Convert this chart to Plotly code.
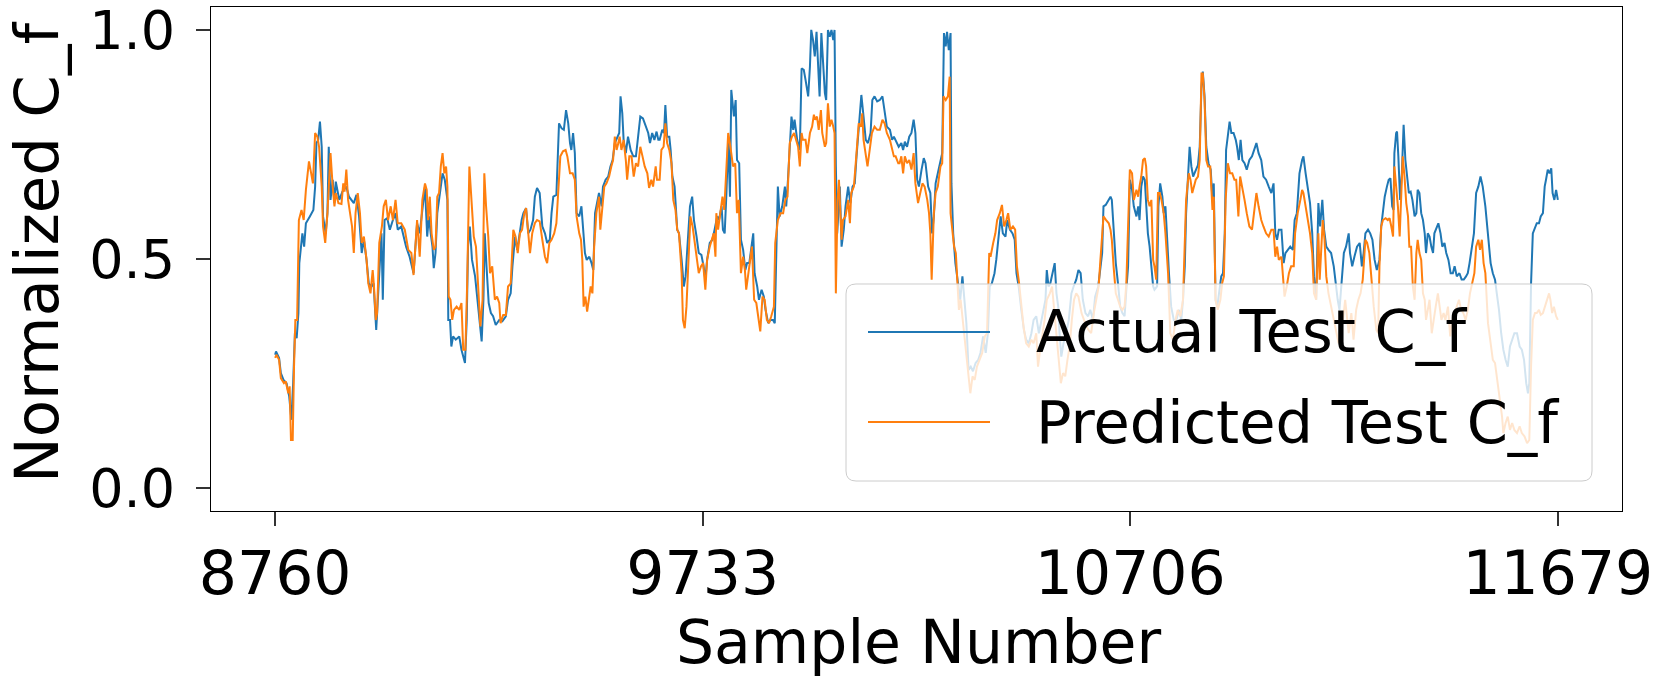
import plotly.graph_objects as go

# axis ticks
x_ticks = [8760, 9733, 10706, 11679]
x_tick_labels = ["8760", "9733", "10706", "11679"]
y_ticks = [0.0, 0.5, 1.0]
y_tick_labels = ["0.0", "0.5", "1.0"]

series_names = ["Actual Test C_f", "Predicted Test C_f"]
series_colours = ["#1f77b4", "#ff7f0e"]

# (sample number, normalized C_f)
actual_points = [
    (8760, 0.291), (8762, 0.298), (8769, 0.284), (8773, 0.251), (8779, 0.236), (8786, 0.229),
    (8792, 0.2), (8797, 0.149), (8801, 0.229), (8805, 0.338), (8809, 0.327), (8813, 0.382),
    (8815, 0.491), (8818, 0.527), (8822, 0.556), (8826, 0.527), (8830, 0.578), (8839, 0.593),
    (8847, 0.607), (8851, 0.658), (8854, 0.753), (8858, 0.76), (8862, 0.8), (8866, 0.745),
    (8869, 0.593), (8875, 0.556), (8879, 0.6), (8882, 0.745), (8886, 0.629), (8891, 0.673),
    (8895, 0.622), (8898, 0.669), (8906, 0.629), (8913, 0.647), (8922, 0.658), (8928, 0.636),
    (8934, 0.629), (8939, 0.622), (8945, 0.64), (8951, 0.593), (8957, 0.513), (8962, 0.542),
    (8968, 0.498), (8973, 0.447), (8979, 0.44), (8984, 0.447), (8990, 0.345), (8997, 0.484),
    (9002, 0.556), (9005, 0.411), (9009, 0.585), (9015, 0.589), (9021, 0.564), (9028, 0.585),
    (9034, 0.6), (9039, 0.564), (9047, 0.571), (9058, 0.527), (9066, 0.505), (9075, 0.469),
    (9083, 0.578), (9089, 0.556), (9097, 0.629), (9101, 0.658), (9106, 0.549), (9110, 0.593),
    (9114, 0.556), (9118, 0.527), (9121, 0.48), (9125, 0.513), (9129, 0.6), (9133, 0.629),
    (9137, 0.651), (9141, 0.687), (9146, 0.673), (9152, 0.629), (9154, 0.367), (9158, 0.367),
    (9161, 0.309), (9165, 0.331), (9171, 0.324), (9179, 0.331), (9184, 0.302), (9192, 0.273),
    (9196, 0.367), (9199, 0.527), (9203, 0.571), (9208, 0.498), (9215, 0.462), (9220, 0.411),
    (9226, 0.345), (9230, 0.32), (9234, 0.411), (9237, 0.556), (9241, 0.484), (9246, 0.404),
    (9251, 0.382), (9256, 0.375), (9262, 0.356), (9270, 0.367), (9277, 0.364), (9285, 0.375),
    (9290, 0.411), (9296, 0.425), (9300, 0.484), (9306, 0.549), (9311, 0.52), (9317, 0.564),
    (9321, 0.585), (9325, 0.6), (9331, 0.611), (9336, 0.556), (9341, 0.564), (9347, 0.585),
    (9351, 0.636), (9356, 0.655), (9362, 0.644), (9368, 0.571), (9374, 0.556), (9379, 0.535),
    (9385, 0.542), (9389, 0.6), (9393, 0.636), (9400, 0.64), (9406, 0.796), (9412, 0.785),
    (9417, 0.782), (9422, 0.825), (9427, 0.796), (9431, 0.753), (9434, 0.738), (9438, 0.775),
    (9442, 0.731), (9446, 0.6), (9452, 0.593), (9457, 0.615), (9461, 0.556), (9465, 0.513),
    (9469, 0.498), (9475, 0.505), (9480, 0.491), (9484, 0.476), (9488, 0.6), (9493, 0.622),
    (9497, 0.644), (9503, 0.615), (9506, 0.658), (9512, 0.673), (9518, 0.68), (9523, 0.702),
    (9528, 0.716), (9533, 0.753), (9538, 0.764), (9543, 0.775), (9546, 0.855), (9550, 0.818),
    (9553, 0.76), (9558, 0.731), (9563, 0.767), (9569, 0.738), (9575, 0.724), (9581, 0.724),
    (9586, 0.767), (9591, 0.811), (9597, 0.807), (9603, 0.789), (9609, 0.775), (9613, 0.753),
    (9618, 0.775), (9623, 0.76), (9628, 0.778), (9632, 0.76), (9635, 0.76), (9641, 0.782),
    (9645, 0.775), (9648, 0.836), (9652, 0.767), (9657, 0.767), (9660, 0.738), (9664, 0.68),
    (9669, 0.658), (9675, 0.564), (9679, 0.556), (9685, 0.498), (9690, 0.44), (9694, 0.462),
    (9700, 0.542), (9704, 0.615), (9709, 0.636), (9713, 0.585), (9719, 0.549), (9724, 0.513),
    (9730, 0.509), (9735, 0.484), (9739, 0.455), (9743, 0.498), (9749, 0.535), (9755, 0.542),
    (9760, 0.564), (9766, 0.593), (9770, 0.585), (9776, 0.615), (9779, 0.564), (9783, 0.556),
    (9787, 0.644), (9791, 0.76), (9795, 0.636), (9798, 0.869), (9804, 0.811), (9808, 0.847),
    (9811, 0.716), (9816, 0.709), (9820, 0.542), (9825, 0.52), (9830, 0.476), (9834, 0.491),
    (9839, 0.491), (9842, 0.513), (9848, 0.556), (9851, 0.469), (9857, 0.44), (9861, 0.411),
    (9867, 0.433), (9872, 0.418), (9876, 0.389), (9882, 0.36), (9887, 0.367), (9893, 0.367),
    (9897, 0.36), (9901, 0.535), (9904, 0.658), (9908, 0.593), (9914, 0.615), (9920, 0.658),
    (9923, 0.615), (9927, 0.673), (9931, 0.738), (9935, 0.811), (9939, 0.782), (9942, 0.804),
    (9948, 0.76), (9954, 0.738), (9958, 0.916), (9963, 0.913), (9967, 0.891), (9973, 0.855),
    (9977, 0.92), (9980, 1.0), (9984, 0.978), (9988, 0.942), (9992, 0.996), (9996, 0.898),
    (9999, 0.855), (10003, 0.993), (10007, 0.92), (10011, 0.862), (10014, 0.847), (10018, 1.0),
    (10022, 0.985), (10026, 1.0), (10030, 0.978), (10033, 1.0), (10036, 0.702), (10039, 0.556),
    (10045, 0.658), (10049, 0.527), (10054, 0.564), (10058, 0.615), (10064, 0.658), (10069, 0.622),
    (10074, 0.658), (10079, 0.665), (10083, 0.724), (10088, 0.789), (10094, 0.858), (10099, 0.811),
    (10104, 0.76), (10109, 0.753), (10115, 0.775), (10119, 0.847), (10124, 0.855), (10130, 0.844),
    (10136, 0.847), (10142, 0.855), (10147, 0.825), (10152, 0.789), (10159, 0.782), (10164, 0.76),
    (10168, 0.767), (10174, 0.753), (10179, 0.745), (10185, 0.753), (10189, 0.738), (10193, 0.756),
    (10198, 0.745), (10203, 0.767), (10208, 0.775), (10213, 0.804), (10217, 0.775), (10221, 0.673),
    (10225, 0.658), (10231, 0.695), (10236, 0.72), (10240, 0.709), (10246, 0.658), (10251, 0.644),
    (10255, 0.556), (10259, 0.593), (10263, 0.665), (10268, 0.687), (10274, 0.716), (10278, 0.731),
    (10282, 0.993), (10286, 0.964), (10289, 0.996), (10293, 0.956), (10297, 0.993), (10299, 0.665),
    (10303, 0.556), (10308, 0.491), (10314, 0.447), (10319, 0.411), (10324, 0.462), (10328, 0.411),
    (10333, 0.36), (10338, 0.258), (10343, 0.265), (10348, 0.255), (10354, 0.273), (10360, 0.28),
    (10365, 0.295), (10371, 0.331), (10377, 0.295), (10382, 0.338), (10386, 0.44), (10391, 0.447),
    (10397, 0.469), (10401, 0.498), (10407, 0.556), (10411, 0.593), (10416, 0.556), (10422, 0.549),
    (10426, 0.585), (10432, 0.564), (10438, 0.556), (10443, 0.542), (10447, 0.469), (10452, 0.44),
    (10458, 0.389), (10464, 0.345), (10469, 0.324), (10475, 0.316), (10481, 0.338), (10486, 0.367),
    (10492, 0.375), (10498, 0.338), (10504, 0.367), (10509, 0.396), (10513, 0.411), (10516, 0.476),
    (10520, 0.44), (10524, 0.447), (10529, 0.469), (10534, 0.491), (10538, 0.425), (10542, 0.396),
    (10545, 0.338), (10549, 0.287), (10554, 0.316), (10560, 0.338), (10566, 0.367), (10572, 0.425),
    (10577, 0.44), (10583, 0.455), (10588, 0.476), (10593, 0.469), (10598, 0.411), (10604, 0.382),
    (10610, 0.375), (10615, 0.389), (10621, 0.367), (10626, 0.418), (10633, 0.44), (10638, 0.484),
    (10642, 0.513), (10645, 0.615), (10650, 0.618), (10655, 0.626), (10661, 0.636), (10664, 0.629),
    (10668, 0.556), (10673, 0.491), (10678, 0.447), (10683, 0.396), (10688, 0.382), (10693, 0.375),
    (10697, 0.433), (10701, 0.484), (10705, 0.673), (10710, 0.651), (10714, 0.615), (10720, 0.593),
    (10724, 0.615), (10727, 0.585), (10731, 0.658), (10735, 0.68), (10739, 0.673), (10742, 0.615),
    (10746, 0.556), (10750, 0.527), (10754, 0.484), (10758, 0.44), (10761, 0.433), (10767, 0.44),
    (10770, 0.615), (10774, 0.665), (10779, 0.636), (10782, 0.6), (10786, 0.615), (10789, 0.556),
    (10794, 0.469), (10799, 0.396), (10805, 0.367), (10811, 0.367), (10817, 0.389), (10822, 0.367),
    (10826, 0.411), (10830, 0.484), (10833, 0.6), (10837, 0.673), (10841, 0.745), (10845, 0.702),
    (10849, 0.68), (10852, 0.687), (10856, 0.695), (10860, 0.705), (10864, 0.745), (10868, 0.876),
    (10871, 0.909), (10875, 0.855), (10879, 0.745), (10884, 0.709), (10889, 0.695), (10893, 0.629),
    (10896, 0.665), (10900, 0.411), (10904, 0.396), (10909, 0.44), (10913, 0.462), (10917, 0.469),
    (10921, 0.556), (10924, 0.738), (10928, 0.775), (10932, 0.8), (10936, 0.775), (10941, 0.775),
    (10946, 0.76), (10949, 0.745), (10953, 0.716), (10957, 0.76), (10961, 0.716), (10966, 0.709),
    (10971, 0.695), (10977, 0.716), (10983, 0.724), (10989, 0.745), (10993, 0.753), (10998, 0.731),
    (11004, 0.716), (11009, 0.68), (11015, 0.673), (11021, 0.658), (11027, 0.644), (11032, 0.665),
    (11036, 0.556), (11040, 0.542), (11044, 0.564), (11050, 0.564), (11055, 0.491), (11059, 0.513),
    (11065, 0.52), (11070, 0.527), (11076, 0.52), (11080, 0.585), (11085, 0.6), (11091, 0.687),
    (11097, 0.716), (11100, 0.724), (11105, 0.687), (11110, 0.658), (11115, 0.622), (11120, 0.556),
    (11124, 0.462), (11129, 0.411), (11134, 0.622), (11138, 0.571), (11143, 0.629), (11147, 0.564),
    (11152, 0.527), (11157, 0.52), (11163, 0.513), (11169, 0.484), (11173, 0.447), (11178, 0.411),
    (11182, 0.389), (11187, 0.462), (11192, 0.513), (11197, 0.527), (11203, 0.556), (11206, 0.513),
    (11211, 0.484), (11216, 0.505), (11222, 0.527), (11228, 0.535), (11233, 0.484), (11237, 0.513),
    (11241, 0.556), (11247, 0.564), (11252, 0.556), (11257, 0.542), (11262, 0.498), (11267, 0.476),
    (11273, 0.498), (11277, 0.571), (11281, 0.6), (11285, 0.636), (11290, 0.658), (11294, 0.673),
    (11298, 0.676), (11302, 0.615), (11305, 0.607), (11307, 0.731), (11311, 0.775), (11313, 0.778),
    (11316, 0.724), (11320, 0.629), (11324, 0.687), (11328, 0.793), (11332, 0.716), (11335, 0.687),
    (11340, 0.644), (11344, 0.647), (11348, 0.629), (11353, 0.593), (11357, 0.6), (11360, 0.651),
    (11364, 0.644), (11368, 0.6), (11372, 0.585), (11376, 0.556), (11379, 0.513), (11383, 0.556),
    (11387, 0.549), (11391, 0.527), (11395, 0.513), (11398, 0.556), (11404, 0.571), (11407, 0.578),
    (11412, 0.556), (11416, 0.527), (11421, 0.535), (11425, 0.513), (11430, 0.498), (11435, 0.469),
    (11440, 0.469), (11444, 0.484), (11449, 0.462), (11455, 0.469), (11460, 0.455), (11465, 0.455),
    (11470, 0.462), (11474, 0.469), (11478, 0.491), (11483, 0.527), (11488, 0.556), (11493, 0.644),
    (11498, 0.658), (11503, 0.68), (11508, 0.658), (11514, 0.615), (11520, 0.556), (11526, 0.491),
    (11531, 0.469), (11536, 0.455), (11540, 0.425), (11545, 0.389), (11550, 0.338), (11555, 0.302),
    (11560, 0.28), (11565, 0.265), (11570, 0.309), (11575, 0.324), (11580, 0.338), (11586, 0.338),
    (11592, 0.309), (11597, 0.302), (11602, 0.28), (11607, 0.229), (11611, 0.207), (11614, 0.229),
    (11618, 0.447), (11622, 0.556), (11627, 0.571), (11631, 0.578), (11636, 0.578), (11640, 0.593),
    (11645, 0.6), (11649, 0.658), (11652, 0.673), (11656, 0.695), (11660, 0.687), (11664, 0.698),
    (11667, 0.644), (11671, 0.629), (11675, 0.651), (11679, 0.629),
]

predicted_points = [
    (8760, 0.284), (8763, 0.291), (8769, 0.28), (8773, 0.24), (8780, 0.229), (8784, 0.233),
    (8790, 0.207), (8793, 0.222), (8796, 0.105), (8800, 0.105), (8803, 0.265), (8806, 0.367),
    (8810, 0.367), (8814, 0.585), (8820, 0.607), (8825, 0.585), (8830, 0.651), (8837, 0.713),
    (8842, 0.687), (8846, 0.665), (8851, 0.775), (8856, 0.767), (8860, 0.745), (8866, 0.658),
    (8869, 0.571), (8874, 0.535), (8879, 0.6), (8882, 0.673), (8886, 0.731), (8891, 0.658),
    (8895, 0.615), (8898, 0.644), (8904, 0.622), (8911, 0.62), (8915, 0.665), (8918, 0.647),
    (8922, 0.695), (8926, 0.629), (8930, 0.607), (8935, 0.571), (8939, 0.513), (8943, 0.6),
    (8948, 0.644), (8953, 0.6), (8957, 0.535), (8962, 0.549), (8968, 0.498), (8972, 0.447),
    (8977, 0.425), (8982, 0.476), (8985, 0.44), (8989, 0.367), (8992, 0.382), (8997, 0.535),
    (9003, 0.571), (9007, 0.615), (9012, 0.629), (9017, 0.585), (9023, 0.615), (9028, 0.585),
    (9034, 0.629), (9039, 0.578), (9047, 0.578), (9055, 0.564), (9063, 0.52), (9070, 0.513),
    (9075, 0.465), (9083, 0.585), (9089, 0.505), (9095, 0.629), (9101, 0.665), (9105, 0.651),
    (9108, 0.585), (9112, 0.636), (9116, 0.556), (9121, 0.52), (9125, 0.527), (9129, 0.636),
    (9133, 0.644), (9137, 0.702), (9141, 0.731), (9145, 0.687), (9149, 0.702), (9152, 0.658),
    (9155, 0.418), (9159, 0.411), (9163, 0.367), (9167, 0.389), (9173, 0.396), (9179, 0.389),
    (9184, 0.404), (9188, 0.302), (9193, 0.302), (9197, 0.447), (9202, 0.702), (9207, 0.629),
    (9212, 0.549), (9217, 0.527), (9222, 0.425), (9227, 0.353), (9232, 0.411), (9236, 0.687),
    (9240, 0.615), (9245, 0.549), (9249, 0.469), (9254, 0.484), (9260, 0.411), (9265, 0.418),
    (9270, 0.404), (9273, 0.36), (9279, 0.378), (9285, 0.378), (9290, 0.44), (9296, 0.447),
    (9302, 0.564), (9307, 0.549), (9312, 0.513), (9317, 0.556), (9322, 0.564), (9327, 0.6),
    (9331, 0.611), (9336, 0.556), (9340, 0.513), (9345, 0.556), (9351, 0.578), (9356, 0.585),
    (9362, 0.582), (9368, 0.542), (9374, 0.505), (9379, 0.491), (9384, 0.535), (9389, 0.542),
    (9395, 0.556), (9400, 0.578), (9404, 0.658), (9409, 0.724), (9415, 0.735), (9421, 0.738),
    (9425, 0.724), (9431, 0.687), (9437, 0.687), (9442, 0.673), (9446, 0.593), (9452, 0.556),
    (9456, 0.542), (9459, 0.498), (9462, 0.396), (9466, 0.418), (9470, 0.385), (9475, 0.425),
    (9478, 0.44), (9482, 0.425), (9486, 0.527), (9491, 0.6), (9497, 0.636), (9500, 0.564),
    (9505, 0.615), (9509, 0.658), (9514, 0.665), (9520, 0.68), (9525, 0.702), (9529, 0.716),
    (9533, 0.767), (9537, 0.738), (9541, 0.753), (9544, 0.767), (9548, 0.738), (9553, 0.76),
    (9558, 0.716), (9561, 0.673), (9566, 0.724), (9571, 0.724), (9576, 0.68), (9581, 0.709),
    (9586, 0.702), (9591, 0.745), (9596, 0.724), (9601, 0.702), (9607, 0.687), (9611, 0.655),
    (9616, 0.673), (9620, 0.658), (9626, 0.702), (9629, 0.673), (9635, 0.673), (9639, 0.738),
    (9644, 0.745), (9648, 0.796), (9652, 0.753), (9657, 0.738), (9662, 0.709), (9666, 0.629),
    (9671, 0.607), (9675, 0.564), (9679, 0.556), (9685, 0.469), (9688, 0.367), (9692, 0.349),
    (9696, 0.396), (9702, 0.556), (9705, 0.593), (9710, 0.571), (9713, 0.549), (9719, 0.498),
    (9724, 0.469), (9729, 0.484), (9734, 0.491), (9739, 0.433), (9743, 0.498), (9749, 0.527),
    (9754, 0.542), (9758, 0.556), (9762, 0.505), (9764, 0.6), (9768, 0.564), (9772, 0.593),
    (9778, 0.636), (9782, 0.607), (9787, 0.702), (9791, 0.775), (9796, 0.745), (9802, 0.702),
    (9807, 0.709), (9811, 0.6), (9815, 0.629), (9820, 0.469), (9825, 0.505), (9829, 0.476),
    (9832, 0.433), (9836, 0.469), (9840, 0.491), (9845, 0.527), (9850, 0.411), (9855, 0.404),
    (9861, 0.367), (9864, 0.342), (9869, 0.418), (9874, 0.411), (9879, 0.367), (9884, 0.36),
    (9889, 0.375), (9895, 0.396), (9898, 0.535), (9904, 0.585), (9910, 0.6), (9916, 0.6),
    (9921, 0.629), (9926, 0.636), (9931, 0.753), (9936, 0.767), (9941, 0.775), (9946, 0.76),
    (9950, 0.745), (9954, 0.702), (9958, 0.775), (9961, 0.76), (9967, 0.76), (9971, 0.731),
    (9977, 0.775), (9982, 0.789), (9986, 0.815), (9989, 0.804), (9993, 0.811), (9997, 0.782),
    (10002, 0.825), (10005, 0.775), (10011, 0.745), (10014, 0.753), (10018, 0.84), (10022, 0.789),
    (10026, 0.804), (10030, 0.789), (10033, 0.775), (10036, 0.425), (10040, 0.629), (10043, 0.673),
    (10049, 0.542), (10052, 0.585), (10058, 0.593), (10064, 0.629), (10068, 0.578), (10071, 0.644),
    (10077, 0.658), (10083, 0.731), (10088, 0.796), (10093, 0.789), (10096, 0.818), (10099, 0.76),
    (10104, 0.724), (10108, 0.702), (10113, 0.738), (10118, 0.775), (10124, 0.789), (10130, 0.782),
    (10136, 0.782), (10142, 0.804), (10147, 0.796), (10152, 0.775), (10159, 0.76), (10164, 0.738),
    (10168, 0.724), (10172, 0.724), (10178, 0.709), (10181, 0.709), (10185, 0.724), (10189, 0.687),
    (10193, 0.724), (10198, 0.709), (10203, 0.716), (10208, 0.695), (10213, 0.731), (10217, 0.665),
    (10223, 0.622), (10228, 0.644), (10233, 0.665), (10238, 0.658), (10244, 0.629), (10248, 0.6),
    (10251, 0.556), (10254, 0.455), (10259, 0.6), (10263, 0.644), (10268, 0.658), (10274, 0.702),
    (10278, 0.709), (10281, 0.855), (10286, 0.847), (10291, 0.855), (10295, 0.898), (10297, 0.6),
    (10301, 0.556), (10305, 0.527), (10309, 0.513), (10312, 0.447), (10316, 0.389), (10320, 0.411),
    (10325, 0.367), (10331, 0.316), (10337, 0.265), (10342, 0.207), (10347, 0.244), (10352, 0.236),
    (10357, 0.265), (10363, 0.28), (10369, 0.295), (10375, 0.331), (10380, 0.338), (10385, 0.513),
    (10388, 0.505), (10394, 0.535), (10399, 0.556), (10403, 0.585), (10409, 0.6), (10414, 0.618),
    (10419, 0.571), (10424, 0.585), (10428, 0.6), (10433, 0.564), (10439, 0.571), (10444, 0.564),
    (10448, 0.484), (10453, 0.447), (10458, 0.396), (10463, 0.353), (10469, 0.316), (10475, 0.309),
    (10481, 0.324), (10486, 0.316), (10492, 0.338), (10496, 0.265), (10500, 0.295), (10505, 0.324),
    (10511, 0.367), (10516, 0.411), (10523, 0.425), (10528, 0.44), (10532, 0.396), (10538, 0.338),
    (10543, 0.28), (10548, 0.229), (10553, 0.251), (10558, 0.244), (10563, 0.28), (10568, 0.309),
    (10573, 0.367), (10578, 0.411), (10583, 0.425), (10588, 0.418), (10595, 0.382), (10600, 0.367),
    (10606, 0.353), (10611, 0.345), (10617, 0.338), (10623, 0.382), (10629, 0.411), (10634, 0.44),
    (10638, 0.498), (10642, 0.556), (10645, 0.593), (10651, 0.585), (10657, 0.578), (10661, 0.564),
    (10664, 0.542), (10668, 0.484), (10673, 0.425), (10678, 0.411), (10683, 0.396), (10688, 0.389),
    (10693, 0.396), (10697, 0.447), (10701, 0.556), (10705, 0.695), (10710, 0.687), (10714, 0.629),
    (10720, 0.651), (10724, 0.636), (10727, 0.658), (10731, 0.68), (10735, 0.716), (10739, 0.72),
    (10742, 0.702), (10746, 0.629), (10750, 0.615), (10754, 0.629), (10758, 0.498), (10761, 0.484),
    (10765, 0.455), (10769, 0.644), (10773, 0.644), (10777, 0.629), (10782, 0.6), (10786, 0.556),
    (10792, 0.469), (10797, 0.338), (10803, 0.324), (10809, 0.367), (10814, 0.389), (10820, 0.375),
    (10826, 0.411), (10830, 0.542), (10833, 0.629), (10839, 0.687), (10843, 0.673), (10847, 0.644),
    (10851, 0.658), (10855, 0.673), (10860, 0.68), (10864, 0.716), (10868, 0.905), (10871, 0.905),
    (10875, 0.847), (10879, 0.716), (10883, 0.702), (10888, 0.702), (10893, 0.607), (10896, 0.636),
    (10900, 0.411), (10905, 0.389), (10911, 0.411), (10915, 0.447), (10919, 0.462), (10923, 0.629),
    (10928, 0.709), (10933, 0.687), (10938, 0.687), (10943, 0.673), (10947, 0.673), (10952, 0.593),
    (10956, 0.68), (10961, 0.658), (10966, 0.629), (10971, 0.6), (10977, 0.571), (10983, 0.564),
    (10989, 0.615), (10993, 0.644), (10998, 0.615), (11004, 0.585), (11009, 0.571), (11015, 0.556),
    (11021, 0.549), (11027, 0.564), (11032, 0.564), (11036, 0.505), (11040, 0.527), (11044, 0.498),
    (11050, 0.505), (11053, 0.469), (11057, 0.418), (11062, 0.44), (11067, 0.469), (11072, 0.484),
    (11078, 0.484), (11081, 0.556), (11087, 0.6), (11093, 0.629), (11097, 0.651), (11100, 0.644),
    (11105, 0.615), (11110, 0.585), (11115, 0.556), (11120, 0.513), (11124, 0.425), (11129, 0.411),
    (11134, 0.556), (11137, 0.455), (11141, 0.52), (11144, 0.585), (11148, 0.542), (11152, 0.462),
    (11157, 0.425), (11163, 0.396), (11169, 0.367), (11175, 0.338), (11180, 0.316), (11184, 0.331),
    (11190, 0.367), (11195, 0.411), (11199, 0.367), (11203, 0.338), (11209, 0.382), (11214, 0.324),
    (11220, 0.389), (11225, 0.411), (11230, 0.425), (11235, 0.455), (11241, 0.542), (11245, 0.535),
    (11250, 0.513), (11256, 0.44), (11260, 0.396), (11266, 0.345), (11270, 0.338), (11273, 0.484),
    (11277, 0.571), (11281, 0.585), (11287, 0.589), (11292, 0.585), (11296, 0.589), (11300, 0.571),
    (11304, 0.549), (11307, 0.702), (11311, 0.658), (11315, 0.615), (11319, 0.549), (11323, 0.658),
    (11326, 0.724), (11330, 0.68), (11334, 0.622), (11338, 0.593), (11341, 0.527), (11345, 0.527),
    (11349, 0.44), (11353, 0.411), (11357, 0.513), (11360, 0.542), (11364, 0.513), (11368, 0.498),
    (11372, 0.425), (11376, 0.411), (11379, 0.367), (11383, 0.389), (11387, 0.411), (11392, 0.338),
    (11396, 0.367), (11401, 0.396), (11406, 0.425), (11410, 0.396), (11414, 0.367), (11419, 0.382),
    (11423, 0.367), (11429, 0.396), (11434, 0.331), (11439, 0.367), (11444, 0.382), (11449, 0.396),
    (11454, 0.411), (11459, 0.389), (11464, 0.382), (11469, 0.367), (11474, 0.389), (11479, 0.425),
    (11484, 0.447), (11489, 0.469), (11493, 0.527), (11498, 0.542), (11502, 0.52), (11506, 0.542),
    (11510, 0.491), (11514, 0.469), (11520, 0.36), (11526, 0.316), (11531, 0.28), (11536, 0.273),
    (11542, 0.229), (11548, 0.193), (11552, 0.156), (11555, 0.12), (11560, 0.142), (11565, 0.156),
    (11570, 0.127), (11575, 0.142), (11580, 0.127), (11586, 0.12), (11592, 0.135), (11597, 0.12),
    (11603, 0.113), (11609, 0.098), (11614, 0.105), (11618, 0.265), (11622, 0.367), (11627, 0.382),
    (11631, 0.382), (11636, 0.389), (11640, 0.378), (11645, 0.382), (11649, 0.396), (11654, 0.411),
    (11659, 0.425), (11662, 0.411), (11666, 0.382), (11670, 0.396), (11675, 0.375), (11679, 0.367),
]

# page / plot area in pixels
W, H = 1661, 683
L, R, T, B = 211, 39, 7, 172
plot_w = W - L - R
plot_h = H - T - B
FONT = "DejaVu Sans"


def paper_x(px):
    return (px - L) / plot_w


def paper_y(py):
    return (H - B - py) / plot_h


def rounded_box(x0, y0, x1, y1, r):
    # rounded rectangle given in pixels, returned as svg path in paper coords
    pts = [
        ("M", [(x0 + r, y0)]), ("L", [(x1 - r, y0)]), ("Q", [(x1, y0), (x1, y0 + r)]),
        ("L", [(x1, y1 - r)]), ("Q", [(x1, y1), (x1 - r, y1)]),
        ("L", [(x0 + r, y1)]), ("Q", [(x0, y1), (x0, y1 - r)]),
        ("L", [(x0, y0 + r)]), ("Q", [(x0, y0), (x0 + r, y0)]),
    ]
    out = ""
    for cmd, coords in pts:
        out += cmd + " ".join(f"{paper_x(a):.5f},{paper_y(b):.5f}" for a, b in coords) + " "
    return out + "Z"


fig = go.Figure()
for name, colour, pts in zip(series_names, series_colours, [actual_points, predicted_points]):
    fig.add_trace(go.Scatter(
        x=[p[0] for p in pts],
        y=[p[1] for p in pts],
        mode="lines",
        line=dict(color=colour, width=2),
        name=name,
        showlegend=False,
    ))

# matplotlib-like legend box drawn by hand (semi transparent, rounded)
shapes = [dict(
    type="path", xref="paper", yref="paper", layer="above",
    path=rounded_box(846, 284, 1592, 481, 10),
    fillcolor="rgba(255,255,255,0.8)", line=dict(color="#cccccc", width=1),
)]
annotations = []
for name, colour, ly in zip(series_names, series_colours, [332, 422]):
    shapes.append(dict(
        type="line", xref="paper", yref="paper", layer="above",
        x0=paper_x(868), x1=paper_x(990), y0=paper_y(ly), y1=paper_y(ly),
        line=dict(color=colour, width=2),
    ))
    annotations.append(dict(
        xref="paper", yref="paper", x=paper_x(1034), y=paper_y(ly),
        xanchor="left", yanchor="middle", showarrow=False,
        text=name, font=dict(family=FONT, size=59, color="black"),
    ))

# axis titles
annotations.append(dict(
    xref="paper", yref="paper", x=paper_x(918), y=paper_y(642),
    xanchor="center", yanchor="middle", showarrow=False,
    text="Sample Number", font=dict(family=FONT, size=60, color="black"),
))
annotations.append(dict(
    xref="paper", yref="paper", x=paper_x(36), y=paper_y(253),
    xanchor="center", yanchor="middle", showarrow=False, textangle=-90,
    text="Normalized C_f", font=dict(family=FONT, size=61, color="black"),
))

axis_common = dict(
    showgrid=False, zeroline=False, showline=True, linecolor="black", linewidth=1.2,
    mirror=True, ticks="outside", ticklen=14, tickwidth=1.5, tickcolor="#333333",
    automargin=False, ticklabeloverflow="allow",
)

fig.update_layout(
    width=W, height=H,
    margin=dict(l=L, r=R, t=T, b=B),
    paper_bgcolor="white", plot_bgcolor="white",
    font=dict(family=FONT, color="black"),
    xaxis=dict(range=[8614.05, 11824.95], tickvals=x_ticks, ticktext=x_tick_labels,
               tickfont=dict(family=FONT, size=60, color="black"),
               ticklabelstandoff=-4, **axis_common),
    yaxis=dict(range=[-0.05, 1.05], tickvals=y_ticks, ticktext=y_tick_labels,
               tickfont=dict(family=FONT, size=54, color="black"),
               ticklabelstandoff=10, **axis_common),
    shapes=shapes,
    annotations=annotations,
    showlegend=False,
)

# page body has a default 8px margin; drop it so the figure sits at the corner
fig.write_html("out.html", config={"displayModeBar": False},
               post_script="document.body.style.margin='0';")
